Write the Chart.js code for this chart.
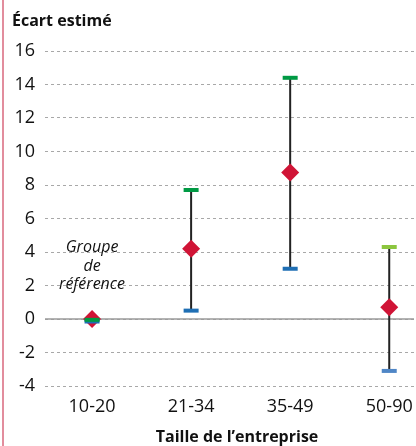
<!DOCTYPE html>
<html>
<head>
<meta charset="utf-8">
<script src="https://cdn.jsdelivr.net/npm/chart.js@4"></script>
<style>
  html, body { margin: 0; padding: 0; background: #fff; }
  #wrap { width: 416px; height: 446px; position: relative; }
</style>
</head>
<body>
<div id="wrap"><canvas id="chart"></canvas></div>
<script>
// Données
const categories = ['10-20', '21-34', '35-49', '50-90'];
const estimates = [0, 4.2, 8.75, 0.7];
const upper = [-0.05, 7.7, 14.4, 4.3];
const lower = [-0.15, 0.5, 3.0, -3.1];
const yTicks = [-4, -2, 0, 2, 4, 6, 8, 10, 12, 14, 16];

const upperColors = ['#009a44', '#009a44', '#009a44', '#8cc63f'];
const lowerColors = ['#1f6fb4', '#1f6fb4', '#1f6fb4', '#4f86c6'];
const FONT = '"Open Sans", sans-serif';

// Moustaches : segments verticaux séparés par des trous
const whiskers = [];
categories.forEach((c, i) => {
    whiskers.push({ x: i, y: lower[i] });
    whiskers.push({ x: i, y: upper[i] });
    whiskers.push({ x: i, y: null });
});

const extraText = {
    id: 'extraText',
    beforeDatasetsDraw(chart) {
        const { ctx, chartArea, scales } = chart;
        // ligne du zéro
        const y0 = scales.y.getPixelForValue(0);
        ctx.save();
        ctx.strokeStyle = '#9a9a9a';
        ctx.lineWidth = 1.5;
        ctx.beginPath();
        ctx.moveTo(chartArea.left, y0);
        ctx.lineTo(chartArea.right, y0);
        ctx.stroke();
        ctx.restore();
    },
    afterDraw(chart) {
        const { ctx, scales } = chart;
        ctx.save();
        // bordure gauche rose
        ctx.strokeStyle = '#d9677d';
        ctx.lineWidth = 1.5;
        ctx.beginPath();
        ctx.moveTo(3, 0);
        ctx.lineTo(3, 446);
        ctx.stroke();

        ctx.fillStyle = '#111';
        ctx.font = 'bold 16px ' + FONT;
        ctx.textAlign = 'left';
        ctx.textBaseline = 'alphabetic';
        ctx.fillText('Écart estimé', 12, 26);

        ctx.textAlign = 'center';
        ctx.fillText('Taille de l\u2019entreprise', 237, 442);

        ctx.font = 'italic 16px ' + FONT;
        ctx.textBaseline = 'middle';
        const gx = scales.x.getPixelForValue(0);
        ctx.fillText('Groupe', gx, 247);
        ctx.fillText('de', gx, 266);
        ctx.fillText('référence', gx, 284);
        ctx.restore();
    }
};

new Chart(document.getElementById('chart'), {
    type: 'scatter',
    data: {
        datasets: [
            {
                label: 'Borne supérieure',
                data: upper.map((v, i) => ({ x: i, y: v })),
                pointStyle: 'line',
                pointRadius: 7.5,
                pointBorderWidth: 4,
                pointBorderColor: upperColors,
                order: 0
            },
            {
                label: 'Borne inférieure',
                data: lower.map((v, i) => ({ x: i, y: v })),
                pointStyle: 'line',
                pointRadius: 7.5,
                pointBorderWidth: 4,
                pointBorderColor: lowerColors,
                order: 0
            },
            {
                label: 'Estimation',
                data: estimates.map((v, i) => ({ x: i, y: v })),
                pointStyle: 'rectRot',
                pointRadius: 9,
                pointBorderWidth: 0,
                pointBackgroundColor: '#d01436',
                order: 1
            },
            {
                label: 'Intervalle',
                type: 'line',
                data: whiskers,
                borderColor: '#222',
                borderWidth: 2,
                pointRadius: 0,
                spanGaps: false,
                order: 2
            }
        ]
    },
    options: {
        responsive: true,
        maintainAspectRatio: false,
        animation: false,
        layout: { autoPadding: false, padding: { top: 51, right: 2, left: 0, bottom: 0 } },
        plugins: {
            legend: { display: false },
            tooltip: { enabled: false }
        },
        scales: {
            x: {
                type: 'linear',
                min: -0.475,
                max: 3.25,
                afterBuildTicks: (scale) => { scale.ticks = categories.map((c, i) => ({ value: i })); },
                afterFit: (scale) => {
                    scale.height = 60;
                    scale.paddingLeft = 0;
                    scale.paddingRight = 0;
                },
                ticks: {
                    callback: (v) => categories[v],
                    color: '#111',
                    font: { family: FONT, size: 18 },
                    padding: 10,
                    maxRotation: 0
                },
                grid: { display: false, drawTicks: false },
                border: { display: false }
            },
            y: {
                min: -4,
                max: 16,
                afterBuildTicks: (scale) => { scale.ticks = yTicks.map(v => ({ value: v })); },
                afterFit: (scale) => { scale.width = 45; },
                ticks: {
                    color: '#111',
                    font: { family: FONT, size: 18 },
                    padding: 10
                },
                grid: { color: '#a8a8a8', lineWidth: 1, drawTicks: false },
                border: { display: false, dash: [3, 3] }
            }
        }
    },
    plugins: [extraText]
});
</script>
</body>
</html>
